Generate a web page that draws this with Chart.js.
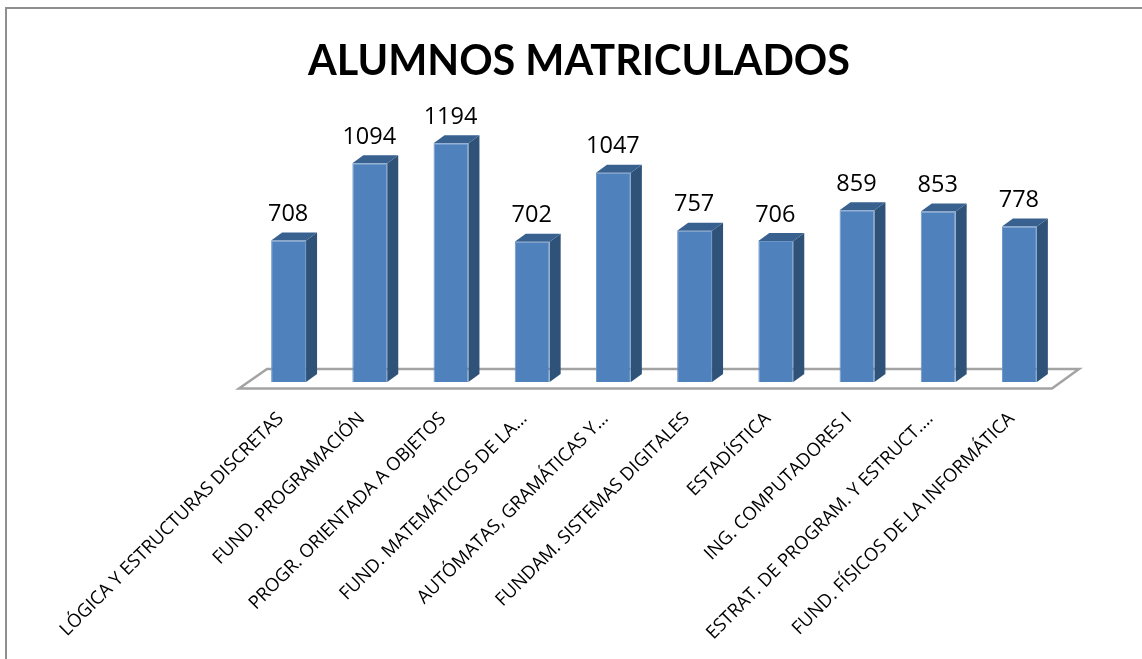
<!DOCTYPE html>
<html>
<head>
<meta charset="utf-8">
<style>html,body{margin:0;padding:0;background:#fff}#w{position:relative;width:1142px;height:659px}</style>
<script src="https://cdn.jsdelivr.net/npm/chart.js@4"></script>
</head>
<body>
<div id="w"><canvas id="c" width="1142" height="659"></canvas></div>
<script>
const categories = ["LÓGICA Y ESTRUCTURAS DISCRETAS","FUND. PROGRAMACIÓN","PROGR. ORIENTADA A OBJETOS","FUND. MATEMÁTICOS DE LA…","AUTÓMATAS, GRAMÁTICAS Y…","FUNDAM. SISTEMAS DIGITALES","ESTADÍSTICA","ING. COMPUTADORES I","ESTRAT. DE PROGRAM. Y ESTRUCT.…","FUND. FÍSICOS DE LA INFORMÁTICA"];
const alumnos = [708,1094,1194,702,1047,757,706,859,853,778];
const titleText = "ALUMNOS MATRICULADOS";
const DX = 11, DY = 8;

const scene = {
  id:'scene',
  beforeDraw(chart){
    const {ctx,width,height}=chart;
    ctx.save();
    ctx.fillStyle='#fff';ctx.fillRect(0,0,width,height);
    ctx.strokeStyle='#8f8f8f';ctx.lineWidth=2;
    ctx.beginPath();ctx.moveTo(6,height);ctx.lineTo(6,8);ctx.lineTo(width,8);ctx.stroke();
    ctx.restore();
  },
  beforeDatasetsDraw(chart){
    const {ctx,chartArea:a}=chart;
    const bottom=chart.scales.y.getPixelForValue(0);
    ctx.save();
    ctx.strokeStyle='#a3a3a3';ctx.lineWidth=2.5;ctx.fillStyle='#fff';ctx.lineJoin='miter';
    ctx.beginPath();
    ctx.moveTo(a.left-9,bottom+6.5);
    ctx.lineTo(a.right-8,bottom+6.5);
    ctx.lineTo(a.right+19,bottom-13);
    ctx.lineTo(a.left+19,bottom-13);
    ctx.closePath();ctx.fill();ctx.stroke();
    chart.getDatasetMeta(0).data.forEach(b=>{
      const l=b.x-b.width/2,r=b.x+b.width/2,t=b.y,bt=b.base;
      ctx.fillStyle='#2f5279';
      ctx.beginPath();ctx.moveTo(r,t);ctx.lineTo(r+DX,t-DY);ctx.lineTo(r+DX,bt-DY);ctx.lineTo(r,bt);ctx.closePath();ctx.fill();
      ctx.fillStyle='#38618f';
      ctx.beginPath();ctx.moveTo(l,t);ctx.lineTo(l+DX,t-DY);ctx.lineTo(r+DX,t-DY);ctx.lineTo(r,t);ctx.closePath();ctx.fill();
    });
    ctx.restore();
  },
  afterDatasetsDraw(chart){
    const {ctx}=chart;
    ctx.save();
    ctx.fillStyle='#000';ctx.font='23.5px "Open Sans"';ctx.textAlign='center';ctx.textBaseline='middle';
    chart.getDatasetMeta(0).data.forEach((b,i)=>{ctx.fillText(String(alumnos[i]),b.x-0.5,b.y-26);});
    ctx.restore();
  }
};

new Chart(document.getElementById('c'),{
  type:'bar',
  data:{labels:categories,datasets:[{data:alumnos,backgroundColor:'#4f81bd',borderColor:'#6c95c7',borderWidth:1,barPercentage:0.43,categoryPercentage:1}]},
  plugins:[scene],
  options:{
    responsive:false,animation:false,
    layout:{padding:{left:16,right:0,top:0,bottom:0}},
    plugins:{
      legend:{display:false},tooltip:{enabled:false},
      title:{display:true,text:titleText,color:'#000',font:{family:'Lato',size:41.4,weight:'bold',lineHeight:1.2},padding:{top:37,bottom:15.5}}
    },
    scales:{
      y:{min:0,max:1400,grid:{display:false},border:{display:false},ticks:{display:false},afterFit(s){s.width=232;}},
      y2:{axis:'y',position:'right',min:0,max:1400,grid:{display:false},border:{display:false},ticks:{display:false},afterFit(s){s.width=82;}},
      x:{
        grid:{display:false,drawTicks:false},border:{display:false},
        afterFit(s){s.height=277;},
        ticks:{autoSkip:false,minRotation:45,maxRotation:45,padding:26,labelOffset:-8,color:'#000',font:{family:'"Open Sans"',size:18.4}}
      }
    }
  }
});
</script>
</body>
</html>
